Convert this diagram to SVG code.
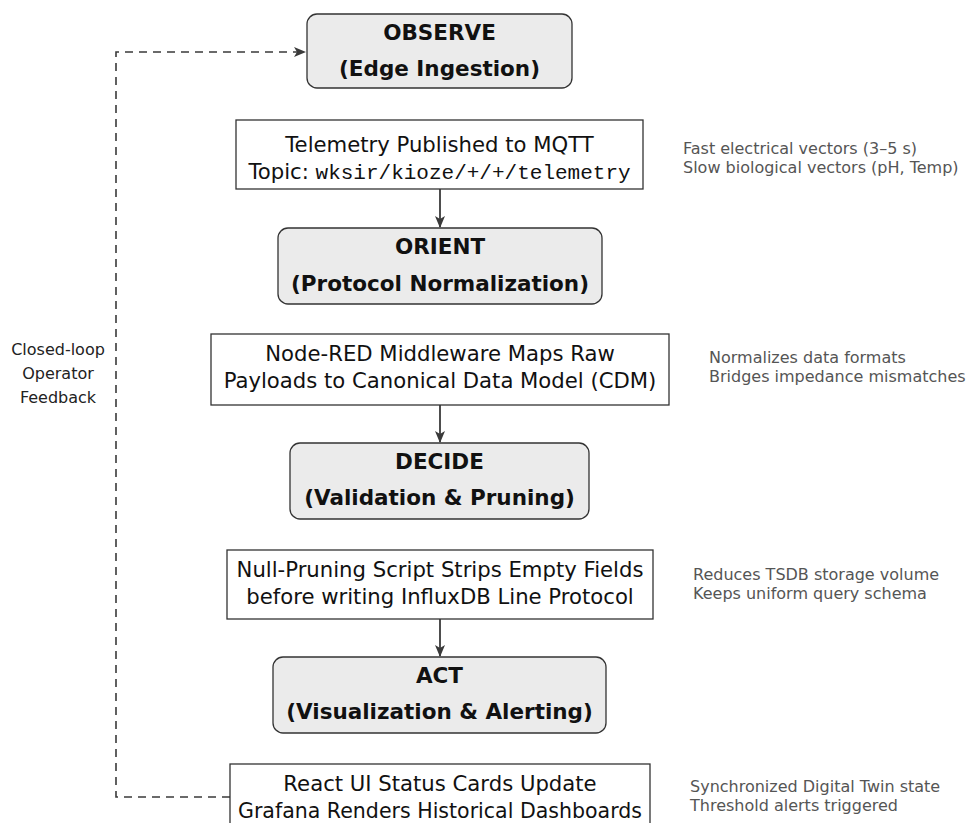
<svg xmlns="http://www.w3.org/2000/svg" width="975" height="823" viewBox="0 0 975 823">
<style>
.phase rect{fill:#ebebeb;stroke:#333;stroke-width:1.3}
.phase text{font-family:"DejaVu Sans",sans-serif;font-weight:bold;font-size:21.5px;fill:#111;text-anchor:middle}
.detail rect{fill:#fff;stroke:#333;stroke-width:1.3}
.detail text{font-family:"DejaVu Sans",sans-serif;font-size:21.2px;fill:#111;text-anchor:middle}
.mono{font-family:"Liberation Mono",monospace;font-size:21px}
.note text{font-family:"DejaVu Sans",sans-serif;font-size:16px;fill:#555}
.lbl{font-family:"DejaVu Sans",sans-serif;font-size:16px;fill:#222;text-anchor:middle}
.conn{stroke:#3a3a3a;stroke-width:1.8;fill:none}
.dash{stroke:#3a3a3a;stroke-width:1.6;fill:none;stroke-dasharray:8,6}
</style>
<defs>
<marker id="ah" viewBox="0 0 12 10" refX="11" refY="5" markerWidth="12" markerHeight="10" markerUnits="userSpaceOnUse" orient="auto">
<path d="M0,0 L12,5 L0,10 L3,5 z" fill="#3a3a3a"/>
</marker>
</defs>
<rect width="975" height="823" fill="#fff"/>

<g id="connectors">
<line class="conn" x1="440" y1="189" x2="440" y2="227" marker-end="url(#ah)"/>
<line class="conn" x1="440" y1="405" x2="440" y2="442" marker-end="url(#ah)"/>
<line class="conn" x1="440" y1="619" x2="440" y2="656" marker-end="url(#ah)"/>
<path class="dash" d="M230,797 H116 V52 H305" marker-end="url(#ah)"/>
<text class="lbl"><tspan x="58" y="355">Closed-loop</tspan><tspan x="58" y="379">Operator</tspan><tspan x="58" y="403">Feedback</tspan></text>
</g>

<g id="observe" class="phase">
<rect x="307" y="14" width="265" height="74" rx="10"/>
<text x="439.5" y="40">OBSERVE</text>
<text x="439.5" y="76">(Edge Ingestion)</text>
</g>
<g id="telemetry" class="detail">
<rect x="236" y="120" width="407" height="69"/>
<text x="439.5" y="152">Telemetry Published to MQTT</text>
<text x="439.5" y="179">Topic: <tspan class="mono">wksir/kioze/+/+/telemetry</tspan></text>
</g>
<g id="note-telemetry" class="note">
<text x="683" y="154">Fast electrical vectors (3–5 s)</text>
<text x="683" y="173">Slow biological vectors (pH, Temp)</text>
</g>

<g id="orient" class="phase">
<rect x="278" y="228" width="324" height="76" rx="10"/>
<text x="440" y="254">ORIENT</text>
<text x="440" y="291">(Protocol Normalization)</text>
</g>
<g id="nodered" class="detail">
<rect x="211" y="334" width="458" height="71"/>
<text x="440" y="361">Node-RED Middleware Maps Raw</text>
<text x="440" y="388">Payloads to Canonical Data Model (CDM)</text>
</g>
<g id="note-nodered" class="note">
<text x="709" y="363">Normalizes data formats</text>
<text x="709" y="382">Bridges impedance mismatches</text>
</g>

<g id="decide" class="phase">
<rect x="290" y="443" width="299" height="76" rx="10"/>
<text x="439.5" y="469">DECIDE</text>
<text x="439.5" y="505">(Validation &amp; Pruning)</text>
</g>
<g id="nullprune" class="detail">
<rect x="227" y="550" width="426" height="69"/>
<text x="440" y="577">Null-Pruning Script Strips Empty Fields</text>
<text x="440" y="604">before writing InfluxDB Line Protocol</text>
</g>
<g id="note-nullprune" class="note">
<text x="693" y="580">Reduces TSDB storage volume</text>
<text x="693" y="599">Keeps uniform query schema</text>
</g>

<g id="act" class="phase">
<rect x="273" y="657" width="333" height="76" rx="10"/>
<text x="439.5" y="683">ACT</text>
<text x="439.5" y="719">(Visualization &amp; Alerting)</text>
</g>
<g id="react" class="detail">
<rect x="230" y="764" width="420" height="70"/>
<text x="440" y="791">React UI Status Cards Update</text>
<text x="440" y="818" textLength="404" lengthAdjust="spacingAndGlyphs">Grafana Renders Historical Dashboards</text>
</g>
<g id="note-react" class="note">
<text x="690" y="792">Synchronized Digital Twin state</text>
<text x="690" y="811">Threshold alerts triggered</text>
</g>
</svg>
